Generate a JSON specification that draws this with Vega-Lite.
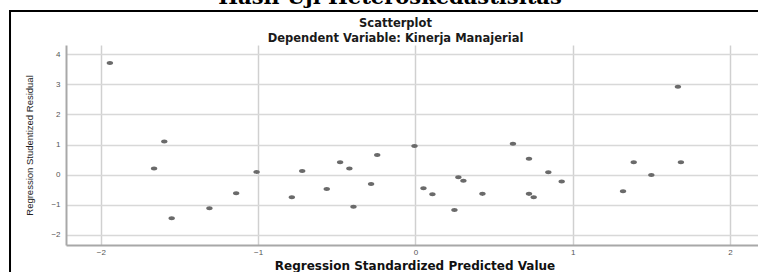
{
  "$schema": "https://vega.github.io/schema/vega-lite/v6.json",
  "background": "white",
  "autosize": {"type": "none"},
  "padding": {"left": 66, "top": 45, "right": 0, "bottom": 27},
  "width": 697,
  "height": 200,
  "config": {"view": {"stroke": null}, "font": "Liberation Sans"},
  "title": {
    "text": "Hasil Uji Heteroskedastisitas",
    "font": "DejaVu Serif",
    "fontWeight": "bold",
    "fontSize": 21,
    "color": "black",
    "baseline": "alphabetic",
    "offset": -15,
    "anchor": "middle",
    "dx": -24.5
  },
  "resolve": {"axis": {"x": "independent", "y": "independent"}},
  "layer": [
    {
      "data": {"values": [{"frame": "box"}]},
      "mark": {"type": "rect", "filled": false, "stroke": "black", "strokeWidth": 2, "clip": false},
      "encoding": {
        "x": {
          "datum": -2.578,
          "type": "quantitative",
          "scale": {"domain": [-2.222, 2.21], "nice": false, "zero": false},
          "axis": {
            "orient": "top",
            "title": ["Scatterplot", "Dependent Variable: Kinerja Manajerial"],
            "titleFont": "DejaVu Sans",
            "titleFontWeight": "bold",
            "titleFontSize": 11.5,
            "titleLineHeight": 14.5,
            "titleColor": "#1a1a1a",
            "titleX": 329,
            "titlePadding": 2,
            "labels": false,
            "ticks": false,
            "domain": false,
            "grid": false
          }
        },
        "x2": {"datum": 2.318},
        "y": {
          "datum": 5.44,
          "type": "quantitative",
          "scale": {"domain": [-2.34, 4.31], "nice": false, "zero": false},
          "axis": null
        },
        "y2": {"datum": -3.67}
      }
    },
    {
      "data": {
        "values": [
          {"pred": -1.943, "resid": 3.71},
          {"pred": -1.597, "resid": 1.10},
          {"pred": -1.662, "resid": 0.20},
          {"pred": -1.55, "resid": -1.45},
          {"pred": -1.31, "resid": -1.12},
          {"pred": -1.14, "resid": -0.62},
          {"pred": -1.01, "resid": 0.09},
          {"pred": -0.786, "resid": -0.75},
          {"pred": -0.72, "resid": 0.12},
          {"pred": -0.564, "resid": -0.48},
          {"pred": -0.479, "resid": 0.41},
          {"pred": -0.42, "resid": 0.20},
          {"pred": -0.394, "resid": -1.07},
          {"pred": -0.282, "resid": -0.31},
          {"pred": -0.243, "resid": 0.65},
          {"pred": -0.006, "resid": 0.95},
          {"pred": 0.051, "resid": -0.45},
          {"pred": 0.108, "resid": -0.65},
          {"pred": 0.248, "resid": -1.18},
          {"pred": 0.273, "resid": -0.09},
          {"pred": 0.305, "resid": -0.20},
          {"pred": 0.426, "resid": -0.64},
          {"pred": 0.62, "resid": 1.03},
          {"pred": 0.722, "resid": 0.53},
          {"pred": 0.845, "resid": 0.08},
          {"pred": 0.93, "resid": -0.23},
          {"pred": 0.722, "resid": -0.64},
          {"pred": 0.752, "resid": -0.75},
          {"pred": 1.32, "resid": -0.55},
          {"pred": 1.388, "resid": 0.41},
          {"pred": 1.50, "resid": -0.01},
          {"pred": 1.669, "resid": 2.92},
          {"pred": 1.688, "resid": 0.41}
        ]
      },
      "mark": {
        "type": "point",
        "filled": true,
        "shape": "M-1,0A1,0.62,0,1,0,1,0A1,0.62,0,1,0,-1,0Z",
        "size": 42,
        "color": "#6a6a6a",
        "opacity": 1
      },
      "encoding": {
        "x": {
          "field": "pred",
          "type": "quantitative",
          "scale": {"domain": [-2.222, 2.21], "nice": false, "zero": false},
          "axis": {
            "values": [-2, -1, 0, 1, 2],
            "title": "Regression Standardized Predicted Value",
            "titleFont": "DejaVu Sans",
            "titleFontWeight": "bold",
            "titleFontSize": 12,
            "titleColor": "#111111",
            "titlePadding": 4,
            "labelFontSize": 8,
            "labelColor": "#555555",
            "labelPadding": 3,
            "ticks": false,
            "domainColor": "#a8a8a8",
            "domainWidth": 2,
            "grid": true,
            "gridColor": "#d0d0d0",
            "gridWidth": 1.5
          }
        },
        "y": {
          "field": "resid",
          "type": "quantitative",
          "scale": {"domain": [-2.34, 4.31], "nice": false, "zero": false},
          "axis": {
            "values": [-2, -1, 0, 1, 2, 3, 4],
            "title": "Regression Studentized Residual",
            "titleFont": "Liberation Sans",
            "titleFontWeight": "normal",
            "titleFontSize": 9.5,
            "titleColor": "#222222",
            "titlePadding": 16,
            "labelFontSize": 8,
            "labelColor": "#555555",
            "labelPadding": 6,
            "ticks": false,
            "domainColor": "#a8a8a8",
            "domainWidth": 2,
            "grid": true,
            "gridColor": "#d8d8d8",
            "gridWidth": 1.5
          }
        }
      }
    }
  ]
}
